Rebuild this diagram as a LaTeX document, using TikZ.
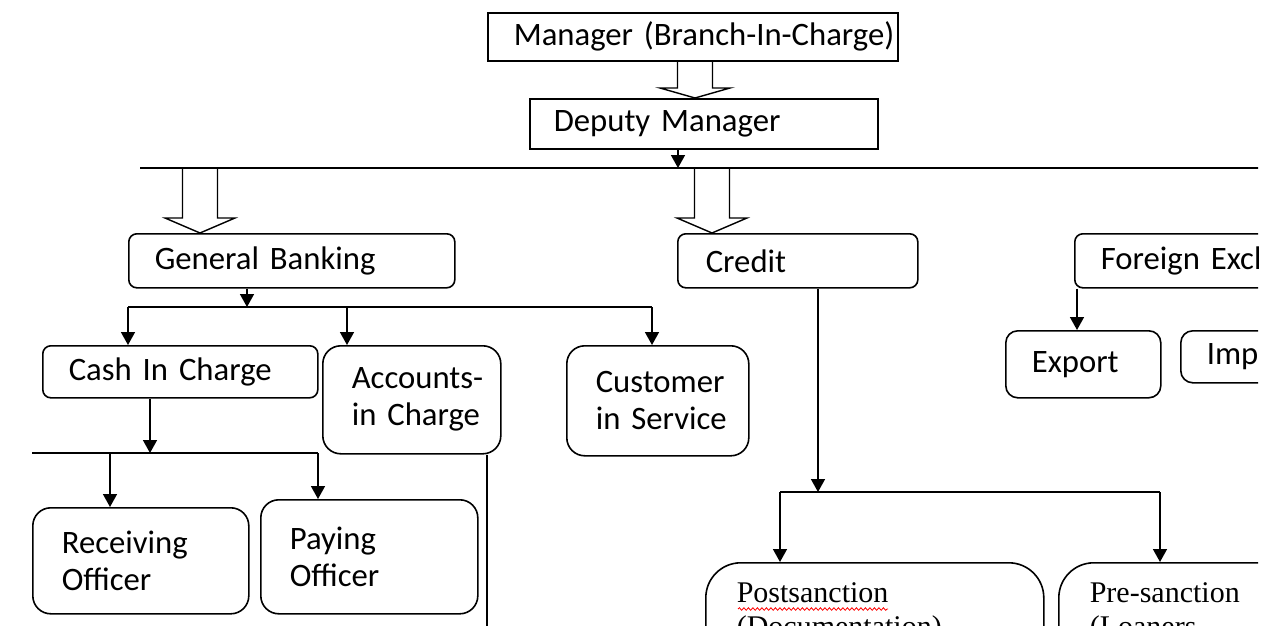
\documentclass[tikz,border=0pt]{standalone}
\usepackage{fontspec}
\setmainfont{Carlito}
\newfontfamily\serifbox{Liberation Serif}
\usetikzlibrary{arrows.meta,calc,decorations.pathmorphing}

\begin{document}
\begin{tikzpicture}[x=1pt,y=-1pt,>={Triangle[width=14pt,length=13pt]},line width=1.6pt,
  box/.style={draw,anchor=north west,align=left,inner xsep=26pt,inner ysep=0pt,
    rounded corners=8pt,font=\fontsize{32.7}{37}\selectfont},
  roundbox/.style={box,rounded corners=18pt,inner xsep=29pt},
  sanction/.style={box,rounded corners=35pt,inner xsep=31pt,inner ysep=20pt,
    font=\serifbox\fontsize{30}{34}\selectfont},
  hollow/.style={line width=1.4pt,line join=miter}]
\useasboundingbox (0,0) rectangle (1270,626);
\clip (0,0) rectangle (1258,626);
% top of the chart
\node[box,sharp corners,text width=358pt,minimum height=48pt] (mgr) at (487,12) {\mbox{Manager (Branch-In-Charge)}};
\node[box,sharp corners,inner xsep=24pt,text width=300pt,minimum height=50pt] (dep) at (529,98) {Deputy Manager};
% departments
\node[box,text width=274pt,minimum height=54pt] (gb) at (128,233) {General Banking};
\node[box,inner xsep=28pt,text width=184pt,minimum height=54pt] (cr) at (677,233) {Credit};
\node[box,text width=268pt,minimum height=54pt] (fx) at (1074,233) {Foreign Exchange};
% general banking desks
\node[box,text width=223pt,minimum height=52pt] (cash) at (42,345) {Cash In Charge};
\node[roundbox,text width=120pt,minimum height=108pt] (acc) at (322,345) {\mbox{Accounts-}\\\mbox{in Charge}};
\node[roundbox,text width=124pt,minimum height=110pt] (cus) at (566,345) {\mbox{Customer}\\\mbox{in Service}};
\node[roundbox,text width=158pt,minimum height=106pt] (rec) at (32,507) {Receiving\\Officer};
\node[roundbox,text width=159pt,minimum height=114pt] (pay) at (260,499) {Paying\\Officer};
% foreign exchange desks
\node[box,rounded corners=12pt,text width=103pt,minimum height=67pt] (exp) at (1005,330) {Export};
\node[box,rounded corners=12pt,text width=148pt,minimum height=52pt] (imp) at (1180,330) {Import};
% credit desks
\node[sanction,text width=276pt] (post) at (705,562) {Postsanction\\(Documentation)};
\node[sanction,text width=238pt] (pre) at (1058,562) {Pre-sanction\\(Loaners};
\draw[red,line width=0.8pt,decorate,decoration={snake,amplitude=1.3pt,segment length=4.5pt}]
  ($(post.north west)+(33,47)$) -- ++(150,0);
% trunk line
\coordinate (trkL) at (140,168);
\coordinate (trkR) at (1270,168);
\draw (trkL) -- (trkR);
\draw[->] (678,0 |- dep.south) -- (678,0 |- trkL);
% hollow arrows
\foreach \x/\s/\e/\h in {695/mgr.south/dep.north/10,200/trkL/gb.north/15,712/trkL/cr.north/15}
  \draw[hollow] ($(\x,0 |- \s)+(-17.5,0)$) -- ($(\x,0 |- \e)+(-17.5,-\h)$)
    -- ($(\x,0 |- \e)+(-35,-\h)$) -- (\x,0 |- \e) -- ($(\x,0 |- \e)+(35,-\h)$)
    -- ($(\x,0 |- \e)+(17.5,-\h)$) -- ($(\x,0 |- \s)+(17.5,0)$);
% general banking
\coordinate (gbL) at (128,307);
\coordinate (gbR) at (652,307);
\draw[->] (247,0 |- gb.south) -- (247,0 |- gbL);
\draw (gbL) -- (gbR);
\draw[->] (gbL) -- (gbL |- cash.north);
\draw[->] (347,0 |- gbL) -- (347,0 |- acc.north);
\draw[->] (gbR) -- (gbR |- cus.north);
% cash
\coordinate (cashL) at (32,453);
\coordinate (cashR) at (318,453);
\draw[->] (150,0 |- cash.south) -- (150,0 |- cashL);
\draw (cashL) -- (cashR);
\draw[->] (110,0 |- cashL) -- (110,0 |- rec.north);
\draw[->] (cashR) -- (cashR |- pay.north);
\coordinate (accEnd) at (487,640);
\draw (487,0 |- acc.south) -- (accEnd);
% credit
\coordinate (crL) at (780,492);
\coordinate (crR) at (1160,492);
\draw[->] (818,0 |- cr.south) -- (818,0 |- crL);
\draw (crL) -- (crR);
\draw[->] (crL) -- (crL |- post.north);
\draw[->] (crR) -- (crR |- pre.north);
% foreign exchange
\draw[->] (1077,0 |- fx.south) -- (1077,0 |- exp.north);
\end{tikzpicture}
\end{document}
